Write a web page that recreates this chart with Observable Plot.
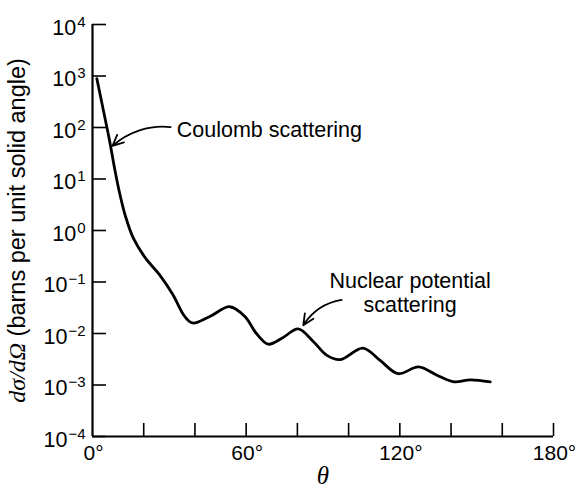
<!DOCTYPE html>
<html>
<head>
<meta charset="utf-8">
<script src="https://cdn.jsdelivr.net/npm/d3@7"></script>
<script src="https://cdn.jsdelivr.net/npm/@observablehq/plot@0.6"></script>
<style>
  html, body { margin: 0; padding: 0; background: #fff; }
  #chart svg { display: block; }
</style>
</head>
<body>
<div id="chart"></div>
<script>
// Scattering angle (degrees) and cross-section (barns per unit solid angle)
const theta = [1.7, 4.3, 6.65, 8.6, 10.6, 12.9, 16.0, 20.7, 26.2, 31.3, 36, 39.1, 45.8, 53.6, 59.5, 64, 68.6, 74.3, 80.3, 86.1, 91.4, 96.6, 105.6, 112.3, 119.3, 127.3, 134.5, 141.2, 147.5, 155.3];
const crossSection = [890, 209, 56, 16.3, 5.3, 1.87, 0.70, 0.29, 0.138, 0.058, 0.0214, 0.0160, 0.0214, 0.0331, 0.0214, 0.0100, 0.0062, 0.0083, 0.0123, 0.0071, 0.0038, 0.0031, 0.0052, 0.0030, 0.00166, 0.00224, 0.00155, 0.00115, 0.00126, 0.00115];

// Axis ticks
const yTickValues = [1e-4, 1e-3, 1e-2, 1e-1, 1e0, 1e1, 1e2, 1e3, 1e4];
const yTickExponents = ["\u22124", "\u22123", "\u22122", "\u22121", "0", "1", "2", "3", "4"];
const xTickMarks = [20, 40, 60, 80, 100, 120, 140, 160, 180];
const xTickLabels = [0, 60, 120, 180];

// Annotations
const coulombNote = [{text: "Coulomb scattering", x: 32.9, y: 91}];
const nuclearNote = [{text: "Nuclear potential\nscattering", x: 124, y: 0.062}];
const arrowFromX = [30.5, 97.3];
const arrowFromY = [102, 0.045];
const arrowToX = [7.8, 82.3];
const arrowToY = [44, 0.0145];

const curve = theta.map((t, i) => ({theta: t, value: crossSection[i]}));
const arrows = arrowFromX.map((x, i) => ({x1: x, y1: arrowFromY[i], x2: arrowToX[i], y2: arrowToY[i]}));

const W = 575, H = 491;
const mL = 92, mR = 22, mT = 24, mB = 55;
const frameW = W - mL - mR, frameH = H - mT - mB;

const chart = Plot.plot({
  width: W,
  height: H,
  marginLeft: mL,
  marginRight: mR,
  marginTop: mT,
  marginBottom: mB,
  style: {fontFamily: "'Liberation Sans', Arial, sans-serif", background: "#fff", color: "#000"},
  x: {domain: [0, 180]},
  y: {type: "log", domain: [1e-4, 1e4]},
  marks: [
    // inward tick marks
    Plot.tickY(yTickValues, {y: d => d, insetRight: frameW - 14, stroke: "#000", strokeWidth: 1.6}),
    Plot.tickX(xTickMarks, {x: d => d, insetTop: frameH - 13, stroke: "#000", strokeWidth: 1.6}),
    // axis lines
    Plot.ruleX([0], {stroke: "#000", strokeWidth: 2.2}),
    Plot.ruleY([1e-4], {stroke: "#000", strokeWidth: 2.2}),
    Plot.axisY({
      ticks: yTickValues,
      tickSize: 0,
      tickPadding: 7,
      dy: 3.5,
      fontSize: 21.5,
      tickFormat: d => "10|" + yTickExponents[yTickValues.indexOf(d)],
      label: "dσ/dΩ (barns per unit solid angle)",
      labelAnchor: "center",
      labelArrow: "none",
      labelOffset: 84
    }),
    Plot.axisX({
      ticks: xTickLabels,
      tickSize: 0,
      tickPadding: 9,
      dx: 1,
      fontSize: 21,
      tickFormat: d => d + "°",
      label: "θ",
      labelAnchor: "center",
      labelArrow: "none",
      labelOffset: 47
    }),
    Plot.line(curve, {x: "theta", y: "value", curve: "catmull-rom", stroke: "#000", strokeWidth: 2.8, strokeLinecap: "round"}),
    Plot.arrow(arrows, {x1: "x1", y1: "y1", x2: "x2", y2: "y2", bend: -24, stroke: "#000", strokeWidth: 1.8, headLength: 10, headAngle: 50}),
    Plot.text(coulombNote, {x: "x", y: "y", text: "text", textAnchor: "start", fontSize: 21.5, fill: "#000"}),
    Plot.text(nuclearNote, {x: "x", y: "y", text: "text", textAnchor: "middle", fontSize: 21.5, lineHeight: 1.12, fill: "#000"})
  ]
});

const svg = d3.select(chart);
// superscript exponents on the y tick labels
svg.selectAll('g[aria-label="y-axis tick label"] text').each(function () {
  const parts = this.textContent.split("|");
  if (parts.length < 2) return;
  const t = d3.select(this);
  t.text(parts[0]);
  t.append("tspan").attr("dy", -8).attr("dx", 1).attr("font-size", 15).text(parts[1]);
});
// y-axis label: italic serif symbols then sans text
svg.selectAll('g[aria-label="y-axis label"] text').each(function () {
  const t = d3.select(this);
  t.text(null).attr("font-size", 23.5);
  t.append("tspan").attr("font-family", "'Liberation Serif', 'Times New Roman', serif").attr("font-style", "italic").attr("font-size", 24).text("dσ/dΩ");
  t.append("tspan").text(" (barns per unit solid angle)");
});
// x-axis label: italic serif theta
svg.selectAll('g[aria-label="x-axis label"] text').each(function () {
  d3.select(this).text("θ").attr("font-family", "'Liberation Serif', 'Times New Roman', serif").attr("font-style", "italic").attr("font-size", 25);
});

document.getElementById("chart").appendChild(chart);
</script>
</body>
</html>
